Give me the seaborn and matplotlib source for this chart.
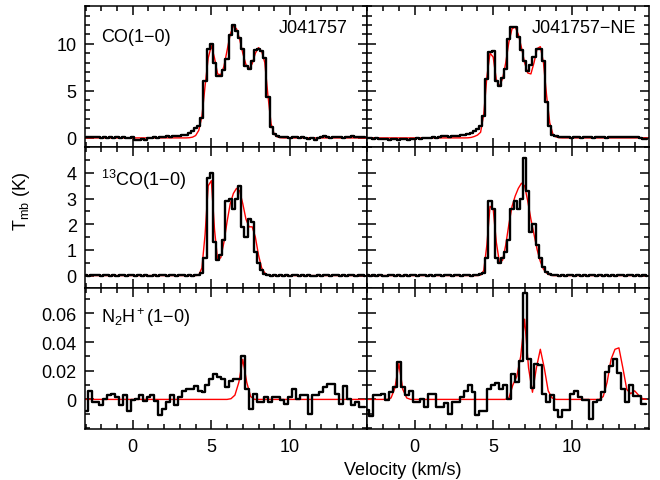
import numpy as np
import pandas as pd
import matplotlib as mpl
import matplotlib.pyplot as plt
import seaborn as sns
from matplotlib.ticker import MultipleLocator, FixedLocator, FuncFormatter

# channel velocities (km/s)
v_co = np.round(np.arange(90) * 0.2 - 3.0, 2)
v_n2h = np.round(np.arange(72) * 0.25 - 3.0, 3)

# --- CO(1-0), J041757 (observed / fit), rows of 2 km/s
co_left = [
    0.05, 0.10, 0.05, 0.10, 0.05, 0.00, 0.05, 0.00, 0.05, 0.00,
    0.05, 0.00, 0.05, -0.05, 0.00, 0.10, -0.25, -0.20, -0.10, -0.20,
    -0.05, 0.00, 0.05, 0.00, 0.10, 0.10, 0.15, 0.10, 0.15, 0.20,
    0.20, 0.30, 0.35, 0.50, 0.75, 1.00, 1.30, 2.10, 6.00, 9.50,
    10.0, 8.0, 6.6, 6.6, 7.2, 8.4, 10.9, 12.0, 11.4, 10.6,
    9.5, 7.6, 7.3, 8.2, 9.3, 9.5, 9.2, 8.5, 4.3, 1.2,
    0.40, 0.25, 0.10, 0.10, 0.05, 0.00, 0.05, 0.10, 0.00, 0.05,
    0.00, -0.10, -0.05, -0.25, 0.00, 0.05, 0.15, 0.05, 0.00, 0.10,
    0.05, 0.10, 0.00, 0.05, 0.10, 0.15, 0.05, 0.10, 0.05, 0.10,
]
co_left_fit = [
    0, 0, 0, 0, 0, 0, 0, 0, 0, 0,
    0, 0, 0, 0, 0, 0, 0, 0, 0, 0,
    0, 0, 0, 0, 0, 0, 0, 0, 0, 0,
    0.00, 0.00, 0.00, 0.02, 0.08, 0.25, 0.80, 2.30, 5.50, 8.50,
    9.8, 8.5, 6.8, 6.7, 7.6, 9.3, 11.0, 11.9, 11.6, 10.5,
    9.0, 7.8, 7.3, 7.9, 9.0, 9.6, 9.2, 8.0, 4.5, 1.5,
    0.40, 0.10, 0.02, 0, 0, 0, 0, 0, 0, 0,
    0, 0, 0, 0, 0, 0, 0, 0, 0, 0,
    0, 0, 0, 0, 0, 0, 0, 0, 0, 0,
]

# --- CO(1-0), J041757-NE
co_right = [
    0.00, -0.05, -0.10, -0.05, -0.15, -0.10, -0.15, -0.20, -0.15, -0.10,
    -0.20, -0.15, -0.10, -0.20, -0.10, -0.15, -0.05, -0.10, 0.00, -0.05,
    0.00, 0.05, 0.00, 0.10, 0.20, 0.15, 0.10, 0.25, 0.20, 0.25,
    0.30, 0.35, 0.40, 0.50, 0.70, 0.90, 1.30, 2.30, 6.30, 9.10,
    9.2, 6.1, 5.5, 6.4, 7.3, 10.5, 11.8, 11.8, 10.7, 9.3,
    8.2, 7.1, 7.7, 8.6, 9.5, 9.5, 8.2, 3.8, 1.3, 0.35,
    0.20, 0.10, 0.05, 0.10, 0.05, 0.00, 0.10, 0.05, 0.00, 0.05,
    0.10, 0.05, 0.00, 0.05, 0.10, 0.05, 0.00, 0.10, 0.10, 0.05,
    0.10, 0.05, 0.10, 0.05, 0.10, 0.10, 0.05, -0.05, -0.10, -0.15,
]
co_right_fit = [
    0, 0, 0, 0, 0, 0, 0, 0, 0, 0,
    0, 0, 0, 0, 0, 0, 0, 0, 0, 0,
    0, 0, 0, 0, 0, 0, 0, 0, 0, 0,
    0.00, 0.00, 0.01, 0.05, 0.15, 0.30, 0.60, 2.50, 6.50, 9.00,
    8.6, 6.2, 5.5, 6.3, 8.0, 10.2, 11.6, 11.8, 11.0, 9.6,
    8.0, 6.9, 6.8, 8.0, 9.5, 9.7, 8.0, 4.5, 1.6, 0.40,
    0.10, 0.02, 0, 0, 0, 0, 0, 0, 0, 0,
    0, 0, 0, 0, 0, 0, 0, 0, 0, 0,
    0, 0, 0, 0, 0, 0, 0, 0, 0, 0,
]

# --- 13CO(1-0)
co13_left = [
    0.02, 0.00, 0.03, 0.01, 0.02, 0.00, 0.01, 0.02, 0.00, 0.01,
    0.00, 0.02, 0.01, -0.01, 0.01, 0.02, 0.00, 0.01, 0.00, 0.02,
    0.00, -0.02, 0.01, 0.00, 0.02, 0.01, 0.00, 0.02, 0.01, 0.00,
    0.01, 0.03, 0.00, 0.02, 0.00, 0.01, 0.02, 0.10, 0.70, 3.80,
    4.00, 1.30, 0.60, 0.80, 1.40, 2.90, 3.00, 2.60, 3.00, 3.50,
    1.90, 1.50, 2.20, 2.10, 0.90, 0.50, 0.20, 0.05, 0.02, 0.00,
    0.01, 0.00, 0.02, 0.00, 0.01, 0.00, 0.02, 0.01, 0.00, 0.01,
    0.00, 0.02, 0.00, -0.01, 0.01, 0.00, 0.02, 0.01, 0.00, 0.01,
    0.02, 0.00, 0.01, 0.00, 0.02, 0.01, 0.00, 0.01, 0.02, 0.00,
]
co13_left_fit = [
    0, 0, 0, 0, 0, 0, 0, 0, 0, 0,
    0, 0, 0, 0, 0, 0, 0, 0, 0, 0,
    0, 0, 0, 0, 0, 0, 0, 0, 0, 0,
    0, 0, 0, 0, 0, 0, 0.02, 0.30, 1.60, 3.50,
    3.70, 1.80, 0.60, 0.70, 1.30, 2.10, 2.80, 3.20, 3.40, 3.30,
    2.80, 2.20, 1.90, 1.90, 1.50, 0.80, 0.30, 0.10, 0.02, 0.00,
    0, 0, 0, 0, 0, 0, 0, 0, 0, 0,
    0, 0, 0, 0, 0, 0, 0, 0, 0, 0,
    0, 0, 0, 0, 0, 0, 0, 0, 0, 0,
]
co13_right = [
    0.01, 0.00, 0.02, 0.00, 0.01, -0.01, 0.00, 0.02, 0.01, 0.00,
    0.02, 0.00, 0.01, 0.00, 0.02, 0.01, 0.00, 0.01, 0.03, 0.00,
    0.01, 0.00, 0.02, 0.01, 0.00, 0.02, 0.01, 0.00, 0.02, 0.01,
    0.00, 0.03, 0.01, 0.00, 0.02, 0.03, 0.05, 0.10, 0.70, 2.90,
    2.60, 0.70, 0.50, 0.70, 0.90, 1.40, 2.60, 2.90, 2.60, 3.00,
    4.60, 3.30, 1.70, 2.00, 1.20, 0.70, 0.35, 0.15, 0.08, 0.03,
    0.01, 0.00, 0.02, 0.00, 0.01, 0.02, 0.00, 0.01, 0.00, 0.02,
    0.00, 0.01, 0.02, 0.00, 0.01, 0.00, 0.02, 0.00, 0.01, 0.00,
    0.02, 0.01, 0.00, 0.01, 0.02, 0.00, 0.01, 0.00, 0.01, 0.00,
]
co13_right_fit = [
    0, 0, 0, 0, 0, 0, 0, 0, 0, 0,
    0, 0, 0, 0, 0, 0, 0, 0, 0, 0,
    0, 0, 0, 0, 0, 0, 0, 0, 0, 0,
    0, 0, 0, 0, 0, 0, 0.02, 0.20, 1.20, 2.70,
    2.60, 1.30, 0.50, 0.60, 1.20, 2.00, 2.70, 3.10, 3.40, 3.60,
    3.50, 2.90, 2.20, 1.60, 1.00, 0.55, 0.25, 0.10, 0.03, 0.00,
    0, 0, 0, 0, 0, 0, 0, 0, 0, 0,
    0, 0, 0, 0, 0, 0, 0, 0, 0, 0,
    0, 0, 0, 0, 0, 0, 0, 0, 0, 0,
]

# --- N2H+(1-0), 0.25 km/s channels, rows of 2 km/s
n2h_left = [
    -0.008, 0.0056, -0.002, -0.002, -0.004, 0.0005, 0.003, 0.004,
    0.0015, -0.004, 0.003, -0.008, -0.0007, 0.0005, 0.003, -0.001,
    0.0015, 0.003, -0.001, -0.011, -0.0065, -0.002, 0.003, -0.004,
    0.0015, 0.006, 0.0075, 0.0075, 0.0097, 0.006, 0.005, 0.010,
    0.014, 0.018, 0.0155, 0.014, 0.0085, 0.013, 0.014, 0.014,
    0.030, 0.0075, -0.007, 0.004, -0.002, -0.002, 0.0015, -0.002,
    0.0015, 0.0015, -0.0007, -0.003, 0.0015, 0.0075, 0.0005, 0.003,
    0.003, -0.010, 0.003, 0.003, 0.005, 0.0085, 0.011, 0.011,
    0.004, -0.003, 0.0097, 0.0005, -0.004, -0.0015, -0.0055, -0.0055,
]
n2h_left_fit = [
    0, 0, 0, 0, 0, 0, 0, 0,
    0, 0, 0, 0, 0, 0, 0, 0,
    0, 0, 0, 0, 0, 0, 0, 0,
    0, 0, 0, 0, 0, 0, 0, 0,
    0, 0, 0, 0, 0, 0.0005, 0.003, 0.012,
    0.028, 0.012, 0.002, 0, 0, 0, 0, 0,
    0, 0, 0, 0, 0, 0, 0, 0,
    0, 0, 0, 0, 0, 0, 0, 0,
    0, 0, 0, 0, 0, 0, 0, 0,
]
n2h_right = [
    -0.0077, -0.0116, 0.003, 0.003, 0.004, -0.0007, 0.005, 0.009,
    0.026, 0.009, 0.003, 0.006, -0.0015, -0.0015, 0.000, -0.0053,
    0.004, 0.004, -0.0053, -0.0053, -0.0023, -0.010, -0.002, -0.002,
    0.0015, 0.006, 0.010, 0.0055, -0.011, -0.0084, -0.0084, 0.0075,
    0.010, 0.0116, 0.0075, 0.010, 0.000, 0.018, 0.012, 0.027,
    0.074, 0.028, 0.008, 0.025, 0.024, 0.004, -0.002, 0.003,
    -0.0077, -0.012, -0.0077, -0.0077, 0.004, 0.006, 0.0015, -0.0007,
    -0.0007, -0.014, -0.002, -0.0007, 0.005, 0.019, 0.023, 0.028,
    0.0186, 0.0075, -0.0015, 0.010, 0.0023, 0.0023, -0.003, -0.003,
]
n2h_right_fit = [
    0, 0, 0, 0, 0, 0, 0.001, 0.008,
    0.025, 0.007, 0.001, 0, 0, 0, 0, 0,
    0, 0, 0, 0, 0, 0, 0, 0,
    0, 0, 0, 0, 0, 0, 0, 0,
    0, 0, 0, 0, 0.001, 0.010, 0.016, 0.030,
    0.056, 0.022, 0.005, 0.022, 0.035, 0.022, 0.006, 0.001,
    0, 0, 0, 0, 0, 0, 0, 0,
    0, 0, 0, 0, 0.002, 0.012, 0.028, 0.035,
    0.036, 0.022, 0.007, 0.004, 0.006, 0.003, 0.0005, 0,
]

line_labels = ["CO(1\u22120)",
               r"$^{\rm 13}$CO(1" + "\u2212" + "0)",
               r"N$_{\rm 2}$H$^{\rm +}$(1" + "\u2212" + "0)"]
source_labels = ["J041757", "J041757\u2212NE"]

sns.set_style("ticks")
plt.rcParams['font.family'] = ['Liberation Sans', 'DejaVu Sans']
plt.rcParams['mathtext.fontset'] = 'custom'
plt.rcParams['mathtext.rm'] = 'Liberation Sans'
plt.rcParams['mathtext.it'] = 'Liberation Sans:italic'
plt.rcParams['axes.linewidth'] = 1.1
plt.rcParams['text.color'] = 'black'

fig, axs = plt.subplots(3, 2, figsize=(6.6, 4.81), dpi=100, sharex=True, sharey='row')
fig.subplots_adjust(left=0.129, right=0.983, top=0.985, bottom=0.105, hspace=0, wspace=0)

panels = [
    (0, 0, v_co, co_left, co_left_fit),
    (0, 1, v_co, co_right, co_right_fit),
    (1, 0, v_co, co13_left, co13_left_fit),
    (1, 1, v_co, co13_right, co13_right_fit),
    (2, 0, v_n2h, n2h_left, n2h_left_fit),
    (2, 1, v_n2h, n2h_right, n2h_right_fit),
]

for r, c, v, spec, fit in panels:
    ax = axs[r, c]
    df = pd.DataFrame({'v': v, 'T': spec, 'fit': fit})
    sns.lineplot(data=df, x='v', y='fit', ax=ax, color='red', lw=1.0, estimator=None)
    sns.lineplot(data=df, x='v', y='T', ax=ax, color='black', lw=1.7,
                 estimator=None, drawstyle='steps-mid')
    ax.set_xlabel('')
    ax.set_ylabel('')

# axis ranges and ticks
ylims = [(-1, 14), (-0.5, 5), (-0.021, 0.0775)]
majors = [FixedLocator([0, 5, 10]), FixedLocator([0, 1, 2, 3, 4]),
          FixedLocator([0, 0.02, 0.04, 0.06])]
minors = [MultipleLocator(1), MultipleLocator(0.5), MultipleLocator(0.01)]
fmt = FuncFormatter(lambda y, p: f'{y:g}')

for r in range(3):
    axs[r, 0].set_ylim(*ylims[r])
    axs[r, 0].yaxis.set_major_locator(majors[r])
    axs[r, 0].yaxis.set_minor_locator(minors[r])
    axs[r, 0].yaxis.set_major_formatter(fmt)

for ax in axs.flat:
    ax.set_xlim(-3.03, 14.9)
    ax.xaxis.set_major_locator(MultipleLocator(5))
    ax.xaxis.set_minor_locator(MultipleLocator(1))
    ax.xaxis.set_major_formatter(fmt)
    ax.tick_params(which='both', direction='in', top=True, right=True,
                   width=1.1, labelsize=13, colors='black')
    ax.tick_params(which='major', length=6.5, pad=6)
    ax.tick_params(which='minor', length=3.5)
    for s in ax.spines.values():
        s.set_color('black')

# panel annotations
for r in range(3):
    ax = axs[r, 0]
    ax.text(0.058, [0.755, 0.73, 0.762][r], line_labels[r], transform=ax.transAxes,
            fontsize=13, ha='left', va='baseline')
axs[0, 0].text(0.93, 0.818, source_labels[0], transform=axs[0, 0].transAxes,
               fontsize=13, ha='right', va='baseline')
axs[0, 1].text(0.957, 0.818, source_labels[1], transform=axs[0, 1].transAxes,
               fontsize=13, ha='right', va='baseline')

fig.text(403 / 660, 6 / 481, "Velocity (km/s)", fontsize=13, ha='center', va='baseline')
fig.text(21.7 / 660, 1 - 201.5 / 481, r"T$_{\rm mb}$ (K)", fontsize=13,
         rotation=90, ha='center', va='center')

fig.savefig('out.png', dpi=100)
